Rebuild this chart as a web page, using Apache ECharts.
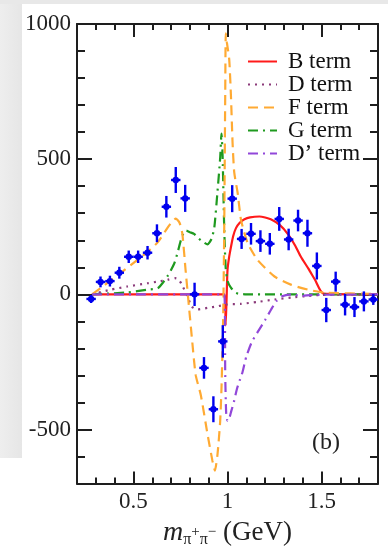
<!DOCTYPE html>
<html>
<head>
<meta charset="utf-8">
<script src="https://cdn.jsdelivr.net/npm/echarts@6/dist/echarts.min.js"></script>
<style>
  html, body { margin: 0; padding: 0; background: #ffffff; }
  #chart { width: 388px; height: 553px; }
</style>
</head>
<body>
<div id="chart"></div>
<script>
// Measured π+π− mass spectrum (bin centres, yields, errors)
const massBins = [0.275, 0.325, 0.375, 0.425, 0.475, 0.525, 0.575, 0.625, 0.675, 0.725,
                  0.775, 0.825, 0.875, 0.925, 0.975, 1.025, 1.075, 1.125, 1.175, 1.225,
                  1.275, 1.325, 1.375, 1.425, 1.475, 1.525, 1.575, 1.625, 1.675, 1.725, 1.775];
const yields   = [-17, 46, 49, 80, 139, 139, 154, 226, 324, 423,
                  355, 0, -272, -425, -174, 354, 205, 224, 197, 187,
                  279, 203, 273, 226, 105, -58, 47, -38, -47, -26, -19];
const yieldErr = [15, 20, 20, 22, 23, 23, 25, 33, 40, 48,
                  50, 43, 40, 48, 60, 50, 37, 40, 40, 40,
                  44, 40, 40, 50, 50, 45, 37, 40, 37, 37, 20];
const halfBin = 0.025;

// Fit components
const bTermX = [0.28, 0.984, 0.99, 0.995, 1.0, 1.008, 1.017, 1.03, 1.045, 1.065, 1.09, 1.12, 1.17, 1.23, 1.28, 1.32, 1.36, 1.39, 1.43, 1.465, 1.51, 1.8];
const bTermY = [0, 0, -115, -20, 90, 135, 170, 215, 245, 265, 278, 285, 288, 278, 255, 224, 180, 139, 95, 54, 3, 0];

const dTermX = [0.28, 0.378, 0.467, 0.574, 0.628, 0.681, 0.72, 0.74, 0.76, 0.787, 0.81, 0.84, 0.894, 0.947, 0.991, 1.072, 1.16, 1.25, 1.34, 1.43, 1.5, 1.8];
const dTermY = [0, 17, 29, 41, 47, 54, 60, 56, 32, -7, -45, -56, -50, -44, -38, -35, -28, -19, -12, -6, -2, 0];

const fTermX = [0.28, 0.325, 0.43, 0.52, 0.58, 0.63, 0.68, 0.705, 0.725, 0.745, 0.76, 0.777, 0.795, 0.813, 0.831, 0.858, 0.894, 0.92, 0.933, 0.947, 0.961, 0.968, 0.974, 0.978, 0.982, 0.985, 0.988, 0.991, 0.997, 1.009, 1.018, 1.027, 1.036, 1.054, 1.072, 1.107, 1.16, 1.25, 1.34, 1.43, 1.52, 1.8];
const fTermY = [0, 23, 78, 127, 160, 193, 245, 268, 280, 265, 224, 91, -44, -178, -299, -372, -518, -616, -652, -591, -470, -348, -190, -44, 200, 467, 750, 965, 930, 870, 740, 560, 450, 375, 275, 190, 127, 66, 35, 17, 6, 2];

const gTermX = [0.28, 0.36, 0.47, 0.57, 0.63, 0.68, 0.717, 0.735, 0.752, 0.765, 0.78, 0.8, 0.822, 0.858, 0.894, 0.915, 0.93, 0.947, 0.961, 0.968, 0.974, 0.982, 0.99, 1.0, 1.018, 1.045, 1.1, 1.8];
const gTermY = [0, 3, 7, 17, 23, 66, 114, 155, 200, 225, 236, 230, 224, 200, 185, 205, 248, 382, 504, 595, 510, 260, 102, 50, 25, 5, 0, 0];

const dpTermX = [0.28, 0.983, 0.988, 0.993, 1.0, 1.008, 1.02, 1.035, 1.05, 1.065, 1.08, 1.1, 1.13, 1.16, 1.2, 1.232, 1.26, 1.29, 1.34, 1.39, 1.45, 1.8];
const dpTermY = [0, 0, -300, -440, -468, -462, -432, -395, -350, -318, -287, -230, -175, -140, -95, -56, -25, -7, 0, -6, -2, 0];

const termNames = ['B term', 'D term', 'F term', 'G term', 'D\u2019 term'];

// Axis ticks
const xMajorTicks = [0.5, 1, 1.5];
const yMajorTicks = [-500, 0, 500, 1000];

const FONT = 'Liberation Serif';
const AXIS_COLOR = '#1e1e1e';

function zip(xs, ys) { return xs.map((x, i) => [x, ys[i]]); }

const chart = echarts.init(document.getElementById('chart'), null, { renderer: 'canvas' });

const axisLineStyle = { color: AXIS_COLOR, width: 2 };
const tickStyle = { color: AXIS_COLOR, width: 2 };

function xAxisDef(position, major) {
  const base = {
    type: 'value', min: 0.2, max: 1.8, position: position,
    splitLine: { show: false },
    axisLine: { show: major, onZero: false, lineStyle: axisLineStyle },
    axisLabel: { show: false },
    axisTick: { show: true, inside: true, length: major ? (position === 'top' ? 13 : 12) : 6, lineStyle: tickStyle }
  };
  if (major) {
    base.axisTick.customValues = xMajorTicks;
  } else {
    base.interval = 0.1;
  }
  return base;
}

function yAxisDef(position, major) {
  const base = {
    type: 'value', min: -700, max: 1000, position: position,
    splitLine: { show: false },
    axisLine: { show: major, onZero: false, lineStyle: axisLineStyle },
    axisLabel: { show: false },
    axisTick: { show: true, inside: true, length: major ? 15 : 8, lineStyle: tickStyle }
  };
  if (major) {
    base.axisTick.customValues = yMajorTicks;
  } else {
    base.interval = 100;
  }
  return base;
}

const xAxes = [xAxisDef('bottom', true), xAxisDef('bottom', false), xAxisDef('top', true), xAxisDef('top', false)];
xAxes[0].axisLabel = {
  show: true, customValues: xMajorTicks, margin: 7,
  fontFamily: FONT, fontSize: 23, color: '#222',
  formatter: v => String(v)
};
xAxes[0].name = '{m|m}{s|\u03c0}{p|+}{s|\u03c0}{p|\u2212}{g| (GeV)}';
xAxes[0].nameLocation = 'middle';
xAxes[0].nameGap = 32;
xAxes[0].nameTextStyle = {
  rich: {
    m: { fontFamily: FONT, fontStyle: 'italic', fontSize: 28, color: '#222', lineHeight: 31, verticalAlign: 'middle' },
    s: { fontFamily: FONT, fontSize: 16, color: '#222', lineHeight: 31, verticalAlign: 'bottom' },
    p: { fontFamily: FONT, fontSize: 15, color: '#222', lineHeight: 31, verticalAlign: 'middle' },
    g: { fontFamily: FONT, fontSize: 27, color: '#222', lineHeight: 31, verticalAlign: 'middle' }
  }
};

const yAxes = [yAxisDef('left', true), yAxisDef('left', false), yAxisDef('right', true), yAxisDef('right', false)];
yAxes[0].axisLabel = {
  show: true, customValues: yMajorTicks, margin: 6,
  fontFamily: FONT, fontSize: 23, color: '#222',
  formatter: v => String(v)
};

function curve(name, xs, ys, color, dash, z) {
  return {
    name: name, type: 'line', xAxisIndex: 0, yAxisIndex: 0, z: z,
    data: zip(xs, ys), symbol: 'none', smooth: 0.2, animation: false,
    lineStyle: { color: color, width: 2.2, type: dash, cap: 'butt' },
    itemStyle: { color: color }
  };
}

const option = {
  animation: false,
  backgroundColor: '#ffffff',
  grid: { left: 77, right: 10, top: 24, bottom: 64, containLabel: false },
  xAxis: xAxes,
  yAxis: yAxes,
  legend: {
    orient: 'vertical', left: 242, top: 45,
    itemWidth: 29, itemHeight: 14, itemGap: 0,
    data: termNames,
    itemStyle: { opacity: 0 },
    textStyle: { fontFamily: FONT, fontSize: 23, color: '#111', lineHeight: 23, padding: [0, 0, 0, 6] }
  },
  graphic: [
    { type: 'rect', left: 0, top: 0, z: -10, shape: { width: 22, height: 458 },
      style: { fill: new echarts.graphic.LinearGradient(0, 0, 1, 0, [
        { offset: 0, color: '#eeeeee' }, { offset: 1, color: '#e6e6e6' }]) } },
    { type: 'rect', left: 0, top: 0, z: -10, shape: { width: 388, height: 4 }, style: { fill: '#e8e8e8' } },
    { type: 'text', left: 312, top: 431, z: 10,
      style: { text: '(b)', fontFamily: FONT, fontSize: 24, fill: '#222' } }
  ],
  series: [
    curve(termNames[0], bTermX, bTermY, '#ff1a1a', 'solid', 2),
    curve(termNames[3], gTermX, gTermY, '#1f9a1f', [10, 5, 2, 5], 3),
    curve(termNames[1], dTermX, dTermY, '#8b3a7a', [2, 5], 3),
    curve(termNames[2], fTermX, fTermY, '#ffaa33', [10, 6], 3),
    curve(termNames[4], dpTermX, dpTermY, '#9147d9', [10, 5, 2, 5], 4),
    {
      name: 'data', type: 'custom', xAxisIndex: 0, yAxisIndex: 0, z: 6,
      data: massBins.map((x, i) => [x, yields[i], yieldErr[i]]),
      renderItem: function (params, api) {
        const x = api.value(0), y = api.value(1), e = api.value(2);
        const c = api.coord([x, y]);
        const l = api.coord([x - halfBin, y]);
        const r = api.coord([x + halfBin, y]);
        const t = api.coord([x, y + e]);
        const b = api.coord([x, y - e]);
        const st = { stroke: '#0000ee', lineWidth: 2.4 };
        return {
          type: 'group',
          children: [
            { type: 'line', shape: { x1: l[0], y1: l[1], x2: r[0], y2: r[1] }, style: st },
            { type: 'line', shape: { x1: t[0], y1: t[1], x2: b[0], y2: b[1] }, style: st },
            { type: 'circle', shape: { cx: c[0], cy: c[1], r: 3.2 }, style: { fill: '#0000ee' } }
          ]
        };
      }
    }
  ]
};

chart.setOption(option);
</script>
</body>
</html>
